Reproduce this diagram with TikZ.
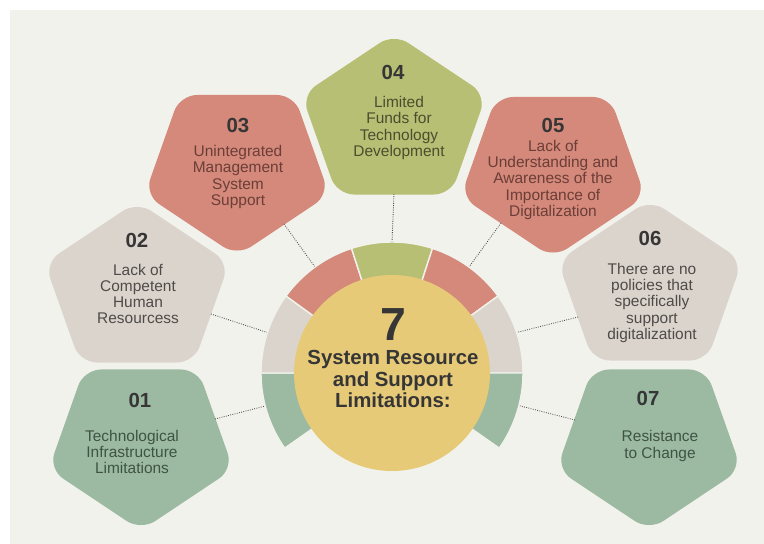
\documentclass[tikz,border=0pt]{standalone}
\usepackage{fontspec}
\setmainfont{Liberation Sans}
\usepackage{xcolor}
\usetikzlibrary{calc}

\definecolor{paper}{HTML}{F2F2EC}
\definecolor{sage}{HTML}{9CBAA2}
\definecolor{sand}{HTML}{DBD4CC}
\definecolor{salmon}{HTML}{D4897B}
\definecolor{moss}{HTML}{B7BF74}
\definecolor{mustard}{HTML}{E7CA78}
\definecolor{ink}{HTML}{363636}
\definecolor{sagetext}{HTML}{3F5345}
\definecolor{salmontext}{HTML}{6B3E37}
\definecolor{sandtext}{HTML}{4E4B48}
\definecolor{mosstext}{HTML}{4A4E2E}

\tikzset{
    pent/.style={rounded corners=12pt},
    num/.style={font=\bfseries\fontsize{14.5}{14.5}\selectfont, text=ink, inner sep=0pt},
    txt/.style={font=\fontsize{11}{11.4}\selectfont, align=center, inner sep=0pt},
    seg/.style={draw=paper, line width=1pt},
    link/.style={densely dotted, line width=0.6pt, black!70},
}

\begin{document}
\begin{tikzpicture}[x=0.025cm, y=-0.025cm]
    \fill[white] (0,0) rectangle (764,544);
    \fill[paper] (10,10) rectangle (764,544);

    %pentagons, odd ones point down
    \fill[sage, pent, shift={(141,441.5)}, xscale=1.09] (90:89) -- (162:89) -- (234:89) -- (306:89) -- (18:89) -- cycle;
    \fill[sand, pent, shift={(137,290.5)}, xscale=1.09] (270:89) -- (342:89) -- (54:89) -- (126:89) -- (198:89) -- cycle;
    \fill[salmon, pent, shift={(237,167)}, xscale=1.09] (90:89) -- (162:89) -- (234:89) -- (306:89) -- (18:89) -- cycle;
    \fill[moss, pent, shift={(394,122.5)}, xscale=1.09] (270:89) -- (342:89) -- (54:89) -- (126:89) -- (198:89) -- cycle;
    \fill[salmon, pent, shift={(553,169)}, xscale=1.09] (90:89) -- (162:89) -- (234:89) -- (306:89) -- (18:89) -- cycle;
    \fill[sand, pent, shift={(650,288.5)}, xscale=1.09] (270:89) -- (342:89) -- (54:89) -- (126:89) -- (198:89) -- cycle;
    \fill[sage, pent, shift={(649,441.5)}, xscale=1.09] (90:89) -- (162:89) -- (234:89) -- (306:89) -- (18:89) -- cycle;

    \coordinate (c) at (392,373);

    %dotted links, pentagon edge to ring
    \coordinate (e01) at (215,419);
    \coordinate (e02) at (211,314);
    \coordinate (e03) at (284,224);
    \coordinate (e04) at (394,194);
    \coordinate (e05) at (501,223);
    \coordinate (e06) at (578,317);
    \coordinate (e07) at (575,420);
    \coordinate (r01) at ($(c)+(165.4:131)$);
    \coordinate (r02) at ($(c)+(198:131)$);
    \coordinate (r03) at ($(c)+(234:131)$);
    \coordinate (r04) at ($(c)+(270:131)$);
    \coordinate (r05) at ($(c)+(306:131)$);
    \coordinate (r06) at ($(c)+(342:131)$);
    \coordinate (r07) at ($(c)+(14.4:131)$);
    \draw[link] (e01) -- (r01);
    \draw[link] (e02) -- (r02);
    \draw[link] (e03) -- (r03);
    \draw[link] (e04) -- (r04);
    \draw[link] (e05) -- (r05);
    \draw[link] (e06) -- (r06);
    \draw[link] (e07) -- (r07);

    %ring behind the circle (angles flipped since y points down)
    \begin{scope}[shift={(c)}]
        \filldraw[fill=sage, seg] (-180:131) arc (-180:-215:131) -- (-215:80) arc (-215:-180:80) -- cycle;
        \filldraw[fill=sand, seg] (-144:131) arc (-144:-180:131) -- (-180:80) arc (-180:-144:80) -- cycle;
        \filldraw[fill=salmon, seg] (-108:131) arc (-108:-144:131) -- (-144:80) arc (-144:-108:80) -- cycle;
        \filldraw[fill=moss, seg] (-72:131) arc (-72:-108:131) -- (-108:80) arc (-108:-72:80) -- cycle;
        \filldraw[fill=salmon, seg] (-36:131) arc (-36:-72:131) -- (-72:80) arc (-72:-36:80) -- cycle;
        \filldraw[fill=sand, seg] (0:131) arc (0:-36:131) -- (-36:80) arc (-36:0:80) -- cycle;
        \filldraw[fill=sage, seg] (35:131) arc (35:0:131) -- (0:80) arc (0:35:80) -- cycle;
    \end{scope}
    \fill[mustard] (c) circle (98);

    \node[font=\bfseries\fontsize{33}{33}\selectfont, text=ink, inner sep=0pt] (seven) at (393,325) {7};
    \node[font=\bfseries\fontsize{14.5}{15}\selectfont, align=center, text=ink, inner sep=0pt] (title) at (393,379) {System Resource\\and Support\\Limitations:};

    \node[num] (n01) at (140,400) {01};
    \node[txt, text=sagetext] (t01) at (132,452) {Technological\\Infrastructure\\Limitations};
    \node[num] (n02) at (137,240) {02};
    \node[txt, text=sandtext] (t02) at (138,294) {Lack of\\Competent\\Human\\Resourcess};
    \node[num] (n03) at (238,125) {03};
    \node[txt, text=salmontext] (t03) at (238,177) {Unintegrated\\Management\\System\\Support};
    \node[num] (n04) at (393,72) {04};
    \node[txt, text=mosstext] (t04) at (399,128) {Limited\\Funds for\\Technology\\Development};
    \node[num] (n05) at (553,125) {05};
    \node[txt, text=salmontext] (t05) at (553,180) {Lack of\\Understanding and\\Awareness of the\\Importance of\\Digitalization};
    \node[num] (n06) at (650,238) {06};
    \node[txt, text=sandtext] (t06) at (652,303) {There are no\\policies that\\specifically\\support\\digitalizationt};
    \node[num] (n07) at (648,398) {07};
    \node[txt, text=sagetext] (t07) at (660,446) {Resistance\\to Change};
\end{tikzpicture}
\end{document}
